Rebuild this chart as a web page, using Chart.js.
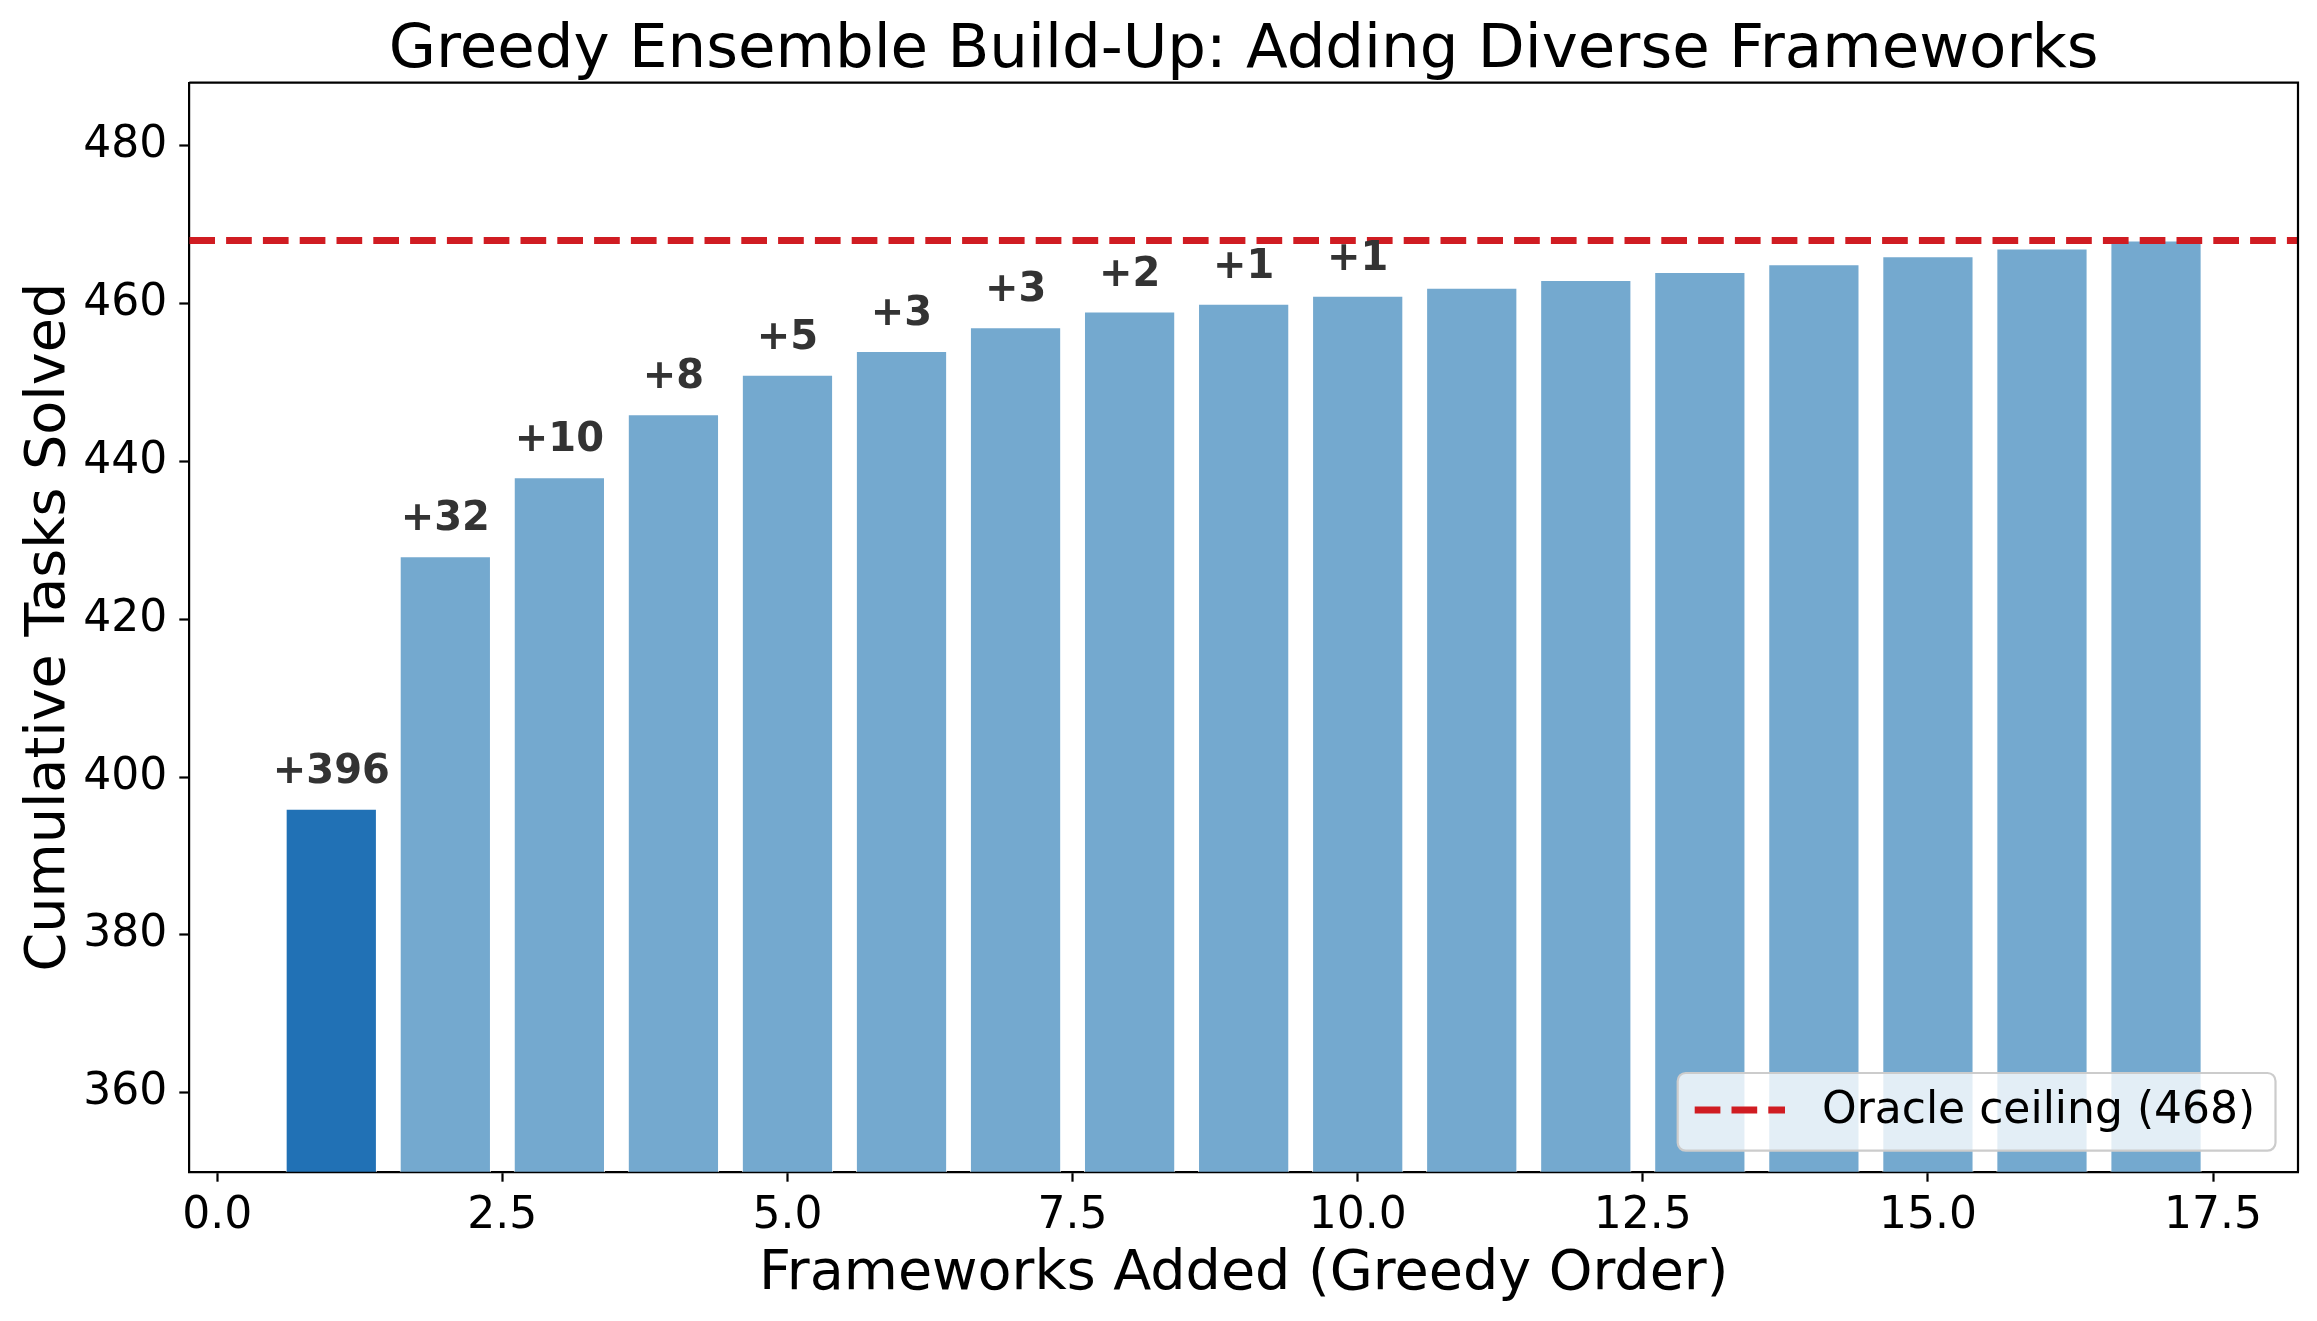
<!DOCTYPE html>
<html lang="en">
<head>
  <meta charset="UTF-8">
  <title>Greedy Ensemble Build-Up</title>
  <script src="https://cdn.jsdelivr.net/npm/chart.js"></script>
  <style>
    * {
      margin: 0;
      padding: 0;
      box-sizing: border-box;
    }
    body {
      background: #ffffff;
      width: 2317px;
      height: 1321px;
      overflow: hidden;
    }
    canvas {
      display: block;
    }
  </style>
</head>
<body>
  <canvas id="buildUpChart" width="2317" height="1321"></canvas>

  <script>
    // data
    const frameworksAdded = [1, 2, 3, 4, 5, 6, 7, 8, 9, 10, 11, 12, 13, 14, 15, 16, 17];
    const cumulativeSolved = [396, 428, 438, 446, 451, 454, 457, 459, 460, 461, 462, 463, 464, 465, 466, 467, 468];
    const gainLabels = ['+396', '+32', '+10', '+8', '+5', '+3', '+3', '+2', '+1', '+1'];
    const oracleCeiling = 468;
    const xLimits = [-0.245, 18.245];
    const yLimits = [350, 488];

    const FONT = "'DejaVu Sans', 'Liberation Sans', sans-serif";
    const firstColor = '#2171b5';
    const restColor = '#74a9cf';
    const red = '#d01c22';
    const dash = [25.7, 11.1];

    // chart area in canvas pixels
    const AREA = { left: 189.3, right: 2298, top: 82.7, bottom: 1171.7 };

    const decorations = {
      id: 'decorations',
      beforeDraw(chart) {
        const ctx = chart.ctx;
        ctx.save();
        ctx.fillStyle = '#ffffff';
        ctx.fillRect(0, 0, chart.width, chart.height);
        ctx.restore();
      },
      afterDatasetsDraw(chart) {
        const ctx = chart.ctx;
        const meta = chart.getDatasetMeta(1);
        ctx.save();
        ctx.font = 'bold 40px ' + FONT;
        ctx.fillStyle = '#333333';
        ctx.textAlign = 'center';
        ctx.textBaseline = 'alphabetic';
        gainLabels.forEach((txt, i) => {
          const bar = meta.data[i];
          ctx.fillText(txt, bar.x, bar.y - 26);
        });
        ctx.restore();
      },
      afterDraw(chart) {
        const ctx = chart.ctx;
        const a = chart.chartArea;
        ctx.save();

        // top and right spines
        ctx.strokeStyle = '#000000';
        ctx.lineWidth = 2.2;
        ctx.beginPath();
        ctx.moveTo(a.left, a.top);
        ctx.lineTo(a.right, a.top);
        ctx.lineTo(a.right, a.bottom);
        ctx.stroke();

        // title and axis titles
        ctx.fillStyle = '#000000';
        ctx.textAlign = 'center';
        ctx.textBaseline = 'alphabetic';
        const cx = (a.left + a.right) / 2;
        ctx.font = '61px ' + FONT;
        ctx.fillText('Greedy Ensemble Build-Up: Adding Diverse Frameworks', cx, 66.7);
        ctx.font = '55.6px ' + FONT;
        ctx.fillText('Frameworks Added (Greedy Order)', cx, 1289);
        ctx.save();
        ctx.translate(63.8, (a.top + a.bottom) / 2);
        ctx.rotate(-Math.PI / 2);
        ctx.fillText('Cumulative Tasks Solved', 0, 0);
        ctx.restore();

        // legend, lower right inside the axes
        const lx = 1677.7, ly = 1073, lw = 597.8, lh = 77.7;
        ctx.beginPath();
        ctx.roundRect(lx, ly, lw, lh, 8);
        ctx.fillStyle = 'rgba(255,255,255,0.8)';
        ctx.fill();
        ctx.strokeStyle = '#cccccc';
        ctx.lineWidth = 2.2;
        ctx.stroke();

        ctx.strokeStyle = red;
        ctx.lineWidth = 6.9;
        ctx.setLineDash(dash);
        ctx.beginPath();
        ctx.moveTo(1694.7, 1110);
        ctx.lineTo(1785, 1110);
        ctx.stroke();
        ctx.setLineDash([]);

        ctx.fillStyle = '#000000';
        ctx.textAlign = 'left';
        ctx.font = '44px ' + FONT;
        ctx.fillText('Oracle ceiling (' + oracleCeiling + ')', 1822, 1122.7);

        ctx.restore();
      }
    };

    const chart = new Chart(document.getElementById('buildUpChart'), {
      type: 'bar',
      data: {
        datasets: [
          {
            type: 'line',
            label: 'Oracle ceiling (' + oracleCeiling + ')',
            data: xLimits.map(x => ({ x: x, y: oracleCeiling })),
            borderColor: red,
            borderWidth: 6.9,
            borderDash: dash,
            pointRadius: 0,
            fill: false,
            order: 0
          },
          {
            type: 'bar',
            label: 'Cumulative',
            data: frameworksAdded.map((x, i) => ({ x: x, y: cumulativeSolved[i] })),
            backgroundColor: ctx => ctx.dataIndex === 0 ? firstColor : restColor,
            borderColor: '#ffffff',
            borderWidth: 1,
            barPercentage: 0.8,
            categoryPercentage: 1.0,
            order: 1
          }
        ]
      },
      options: {
        responsive: false,
        animation: false,
        devicePixelRatio: 1,
        layout: {
          padding: { left: 0, right: 2317 - AREA.right, top: AREA.top, bottom: 0 }
        },
        plugins: {
          legend: { display: false },
          title: { display: false },
          tooltip: { enabled: false }
        },
        scales: {
          x: {
            type: 'linear',
            min: xLimits[0],
            max: xLimits[1],
            offset: false,
            grid: {
              offset: false,
              drawOnChartArea: false,
              drawTicks: true,
              tickLength: 10,
              tickWidth: 2.2,
              tickColor: '#000000'
            },
            border: { display: true, color: '#000000', width: 2.2 },
            ticks: {
              stepSize: 2.5,
              includeBounds: false,
              autoSkip: false,
              maxRotation: 0,
              padding: 8,
              color: '#000000',
              font: { family: FONT, size: 44 },
              callback: v => Number(v).toFixed(1)
            },
            afterFit(scale) { scale.height = 1321 - AREA.bottom; }
          },
          y: {
            min: yLimits[0],
            max: yLimits[1],
            beginAtZero: false,
            grid: {
              drawOnChartArea: false,
              drawTicks: true,
              tickLength: 10,
              tickWidth: 2.2,
              tickColor: '#000000'
            },
            border: { display: true, color: '#000000', width: 2.2 },
            ticks: {
              stepSize: 20,
              includeBounds: false,
              padding: 12,
              color: '#000000',
              font: { family: FONT, size: 44 }
            },
            afterFit(scale) { scale.width = AREA.left; }
          }
        }
      },
      plugins: [decorations]
    });
  </script>
</body>
</html>
